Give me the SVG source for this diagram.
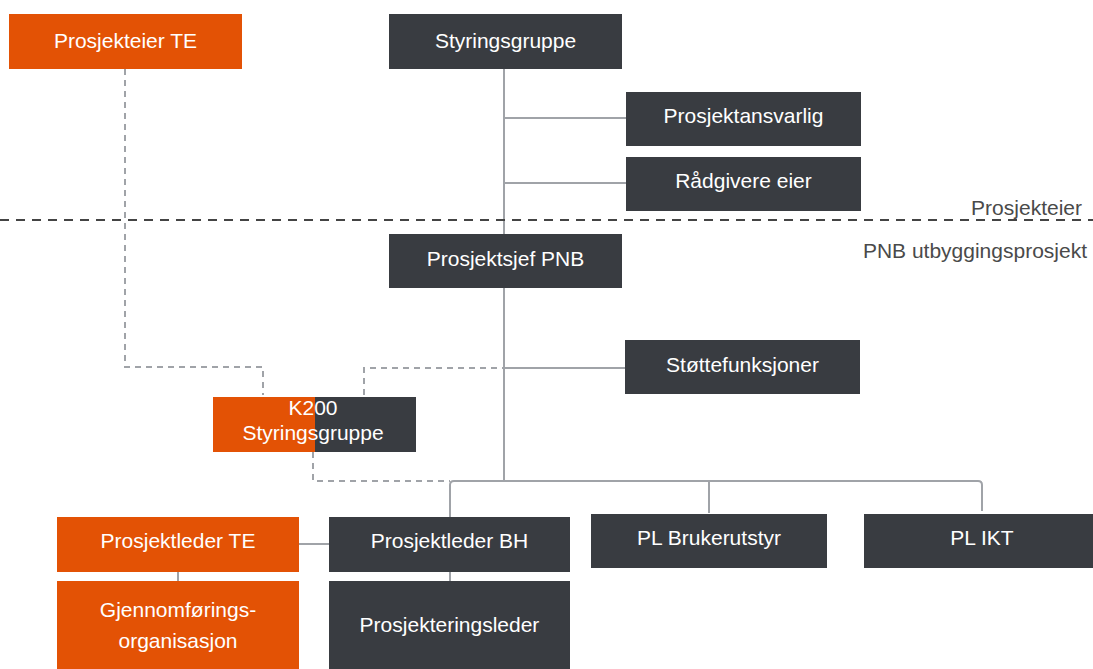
<svg xmlns="http://www.w3.org/2000/svg" width="1093" height="669" viewBox="0 0 1093 669">
<style>
.o{fill:#E35205}
.d{fill:#393C41}
.t{fill:#fff;font-family:"Liberation Sans",Arial,sans-serif;font-size:21px;text-anchor:middle}
.l{fill:none;stroke:#A0A3A8;stroke-width:2}
.dl{fill:none;stroke:#A0A3A8;stroke-width:2;stroke-dasharray:6,5}
.lab{fill:#4a4a4a;font-family:"Liberation Sans",Arial,sans-serif;font-size:21px}
</style>
<rect width="1093" height="669" fill="#fff"/>
<g id="connectors">
<path class="l" d="M504 69V481"/>
<path class="l" d="M504 118H626M504 183H626M504 368H625"/>
<path class="l" d="M450 517V485Q450 481 454 481H978Q982 481 982 485V511M709 481V513"/>
<path class="l" d="M299 544H329M178 572V581M450 572V581"/>
<path class="dl" d="M125 69V367H263V395"/>
<path class="dl" d="M364 395V368H504"/>
<path class="dl" d="M313 452V481H450"/>
</g>
<g id="separator">
<line x1="0" y1="220" x2="1093" y2="220" stroke="#444" stroke-width="2" stroke-dasharray="9,7"/>
<text class="lab" x="1082" y="215" text-anchor="end">Prosjekteier</text>
<text class="lab" x="1087" y="258" text-anchor="end">PNB utbyggingsprosjekt</text>
</g>
<g id="prosjekteier-te"><rect class="o" x="9" y="14" width="233" height="55"/><text class="t" x="125.5" y="48">Prosjekteier TE</text></g>
<g id="styringsgruppe"><rect class="d" x="389" y="14" width="233" height="55"/><text class="t" x="505.5" y="48">Styringsgruppe</text></g>
<g id="prosjektansvarlig"><rect class="d" x="626" y="92" width="235" height="54"/><text class="t" x="743.5" y="123">Prosjektansvarlig</text></g>
<g id="radgivere-eier"><rect class="d" x="626" y="157" width="235" height="54"/><text class="t" x="743.5" y="188">Rådgivere eier</text></g>
<g id="prosjektsjef-pnb"><rect class="d" x="389" y="234" width="233" height="54"/><text class="t" x="505.5" y="266">Prosjektsjef PNB</text></g>
<g id="stottefunksjoner"><rect class="d" x="625" y="340" width="235" height="54"/><text class="t" x="742.5" y="372">Støttefunksjoner</text></g>
<g id="k200"><rect class="o" x="213" y="397" width="102" height="55"/><rect class="d" x="315" y="397" width="101" height="55"/><text class="t" x="313" y="415">K200</text><text class="t" x="313" y="440">Styringsgruppe</text></g>
<g id="prosjektleder-te"><rect class="o" x="57" y="517" width="242" height="55"/><text class="t" x="178" y="548">Prosjektleder TE</text></g>
<g id="prosjektleder-bh"><rect class="d" x="329" y="517" width="241" height="55"/><text class="t" x="449.5" y="548">Prosjektleder BH</text></g>
<g id="pl-brukerutstyr"><rect class="d" x="591" y="514" width="236" height="54"/><text class="t" x="709" y="545">PL Brukerutstyr</text></g>
<g id="pl-ikt"><rect class="d" x="864" y="514" width="229" height="54"/><text class="t" x="982" y="545">PL IKT</text></g>
<g id="gjennomforingsorganisasjon"><rect class="o" x="57" y="581" width="242" height="88"/><text class="t" x="178" y="617">Gjennomførings-</text><text class="t" x="178" y="648">organisasjon</text></g>
<g id="prosjekteringsleder"><rect class="d" x="329" y="581" width="241" height="88"/><text class="t" x="449.5" y="632">Prosjekteringsleder</text></g>
</svg>
